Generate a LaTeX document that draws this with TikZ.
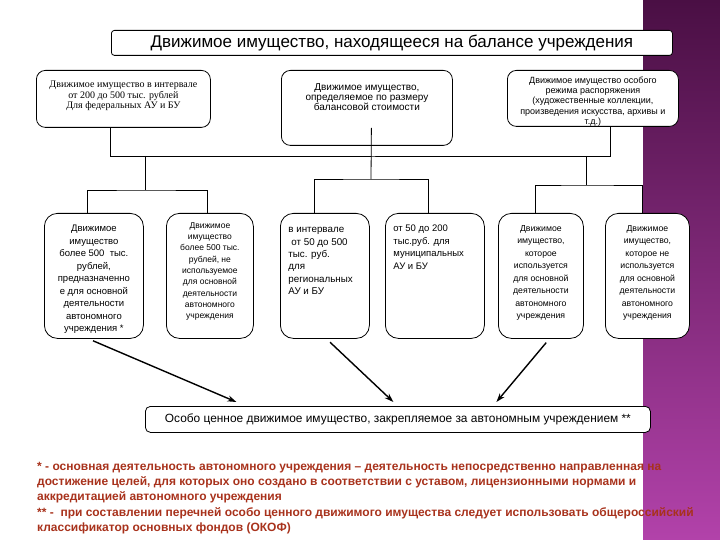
\documentclass[tikz,border=0pt]{standalone}
\usepackage{fontspec}
\setmainfont{Liberation Sans}
\newfontfamily\tnr{Liberation Serif}
\usepackage{xcolor}
\usetikzlibrary{arrows.meta,positioning}
\definecolor{cNote}{HTML}{A8321C}
\definecolor{cBandTop}{HTML}{4A0F44}
\definecolor{cBandMid}{HTML}{7E2276}
\definecolor{cBandBot}{HTML}{B242AA}
\tikzset{
  head/.style = {rectangle, rounded corners=3pt, draw=black, fill=white, line width=0.8pt,
                 inner sep=0pt, anchor=north west, minimum width=561pt, minimum height=25pt,
                 font=\fontsize{17}{19}\selectfont},
  grp/.style  = {rectangle, rounded corners=9pt, draw=black, fill=white, line width=0.8pt,
                 inner sep=0pt, anchor=north west},
  leaf/.style = {rectangle, rounded corners=13pt, draw=black, fill=white, line width=0.8pt,
                 inner sep=0pt, anchor=north west},
  link/.style = {draw=black, line width=0.8pt},
  fl/.style   = {-{Stealth[length=9pt,width=6pt]}, draw=black, line width=1.4pt,
                 shorten <=5pt},
  note/.style = {anchor=north west, align=left, inner sep=0pt, text=cNote,
                 font=\fontsize{12}{15.2}\selectfont\bfseries},
}
% fixed size box text: height, width, top pad, alignment, text
\newcommand{\cell}[5]{\parbox[c][#1][t]{#2}{#4\vspace*{#3}#5\par}}

\begin{document}
\begin{tikzpicture}[x=1pt, y=-1pt]
  \useasboundingbox (0,0) rectangle (720,540);
  \shade[top color=cBandTop, middle color=cBandMid, bottom color=cBandBot] (643,0) rectangle (720,540);

  % top level
  \node[head] (a0) at (111,30) {Движимое имущество, находящееся на балансе учреждения};

  \node[grp, font=\tnr\fontsize{10}{10.2}\selectfont] (a1) at (36,70)
    {\cell{57pt}{174pt}{11pt}{\centering}{Движимое имущество в интервале\\от 200 до 500 тыс. рублей\\Для федеральных АУ и БУ}};
  \node[grp, font=\fontsize{10}{10.3}\selectfont] (a2) at (281,70)
    {\cell{75pt}{171pt}{13pt}{\centering}{Движимое имущество,\\определяемое по размеру\\балансовой стоимости}};
  \node[grp, font=\fontsize{9}{10.2}\selectfont] (a3) at (507,70)
    {\cell{56pt}{171pt}{6.5pt}{\centering}{Движимое имущество особого\\режима распоряжения\\(художественные коллекции,\\произведения искусства, архивы и\\т.д.)}};

  % second level
  \node[leaf, font=\fontsize{9.5}{12.5}\selectfont] (b1) at (44,213)
    {\cell{125pt}{99pt}{12pt}{\centering}{Движимое\\имущество\\более 500~ тыс.\\рублей,\\предназначенно\\е для основной\\деятельности\\автономного\\учреждения *}};
  \node[leaf, font=\fontsize{8.5}{11.3}\selectfont] (b2) at (166,213)
    {\cell{125pt}{87pt}{9pt}{\centering}{Движимое\\имущество\\более 500 тыс.\\рублей, не\\используемое\\для основной\\деятельности\\автономного\\учреждения}};
  \node[leaf, font=\fontsize{9.8}{12.4}\selectfont] (b3) at (280,213)
    {\cell{125pt}{89pt}{14pt}{\raggedright\leftskip=8pt}{в интервале\\\hspace*{3pt}от 50 до 500\\тыс. руб.\\для\\региональных\\АУ и БУ}};
  \node[leaf, font=\fontsize{9.5}{12.5}\selectfont] (b4) at (385,213)
    {\cell{125pt}{99pt}{11.5pt}{\raggedright\leftskip=8pt}{от 50 до 200\\тыс.руб. для\\муниципальных\\АУ и БУ}};
  \node[leaf, font=\fontsize{8.7}{12.5}\selectfont] (b5) at (498,213)
    {\cell{125pt}{85pt}{12pt}{\centering}{Движимое\\имущество,\\которое\\используется\\для основной\\деятельности\\автономного\\учреждения}};
  \node[leaf, font=\fontsize{8.7}{12.5}\selectfont] (b6) at (605,213)
    {\cell{125pt}{84pt}{12pt}{\centering}{Движимое\\имущество,\\которое не\\используется\\для основной\\деятельности\\автономного\\учреждения}};

  \node[grp, rounded corners=5pt, minimum width=505pt, minimum height=26pt,
        font=\fontsize{11.9}{13}\selectfont] (c0) at (145,406)
    {Особо ценное движимое имущество, закрепляемое за автономным учреждением **};

  % tree
  \coordinate (bar) at (0,156);
  \coordinate (k1) at (145,190);
  \coordinate (k2) at (371,179);
  \coordinate (k3) at (586,185);
  \draw[link] ([xshift=-13pt]a1.south) |- (bar -| k1) -| ([xshift=17pt]a3.south);
  \draw[link] (bar -| k2) -| ([xshift=-13pt]a1.south);
  \draw[link] ([xshift=4.5pt,yshift=18pt]a2.south) -- (k2);
  \draw[link] (bar -| k1) -- (k1);
  \draw[link] (bar -| k3) -- (k3);
  \draw[link] ([xshift=-6.5pt]b1.north) |- (k1) -| ([xshift=-3pt]b2.north);
  \draw[link] ([xshift=-10.5pt]b3.north) |- (k2) -| ([xshift=-6.5pt]b4.north);
  \draw[link] ([xshift=-5.5pt]b5.north) |- (k3) -| ([xshift=-5pt]b6.north);

  \draw[fl] ([xshift=-5.5pt]b1.south) -- ([xshift=-161.5pt,yshift=4pt]c0.north);
  \draw[fl] ([xshift=1.5pt]b3.south) -- ([xshift=-4.5pt,yshift=4pt]c0.north);
  \draw[fl] ([xshift=8.5pt]b5.south) -- ([xshift=98.5pt,yshift=4pt]c0.north);

  % footnotes
  \node[note] (n0) at (37,462) {* - основная деятельность автономного учреждения -- деятельность непосредственно направленная на\\
    достижение целей, для которых оно создано в соответствии с уставом, лицензионными нормами и\\
    аккредитацией автономного учреждения\\
    ** - ~при составлении перечней особо ценного движимого имущества следует использовать общероссийский\\
    классификатор основных фондов (ОКОФ)};
\end{tikzpicture}
\end{document}
